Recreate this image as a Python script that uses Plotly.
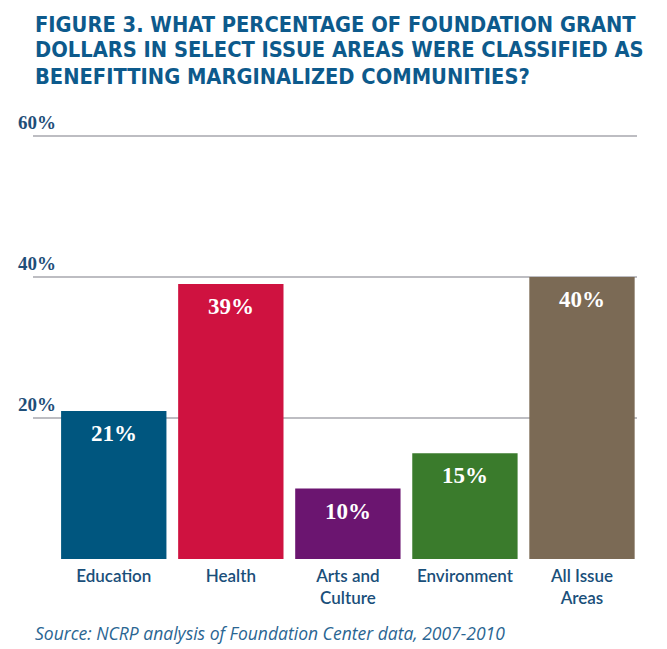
import plotly.graph_objects as go

# data
categories = ["Education", "Health", "Arts and<br>Culture", "Environment", "All Issue<br>Areas"]
values = [21, 39, 10, 15, 40]
bar_colors = ["#00567f", "#cf1240", "#6b1570", "#3a7b2c", "#7b6a55"]
y_ticks = [20, 40, 60]
title_lines = [
    "FIGURE 3. WHAT PERCENTAGE OF FOUNDATION GRANT",
    "DOLLARS IN SELECT ISSUE AREAS WERE CLASSIFIED AS",
    "BENEFITTING MARGINALIZED COMMUNITIES?",
]
source = "Source: NCRP analysis of Foundation Center data, 2007-2010"

x_pos = list(range(len(categories)))

# the page puts the figure 8px in from the corner, so sizes are trimmed by that
W, H = 659, 641
M_L, M_R, M_T, M_B = 25, 30, 126, 90
plot_h = H - M_T - M_B
plot_w = W - M_L - M_R


def py(px):
    # pixel row in the figure -> paper y
    return (H - M_B - px) / plot_h


fig = go.Figure()
fig.add_trace(go.Bar(
    x=x_pos, y=values, width=0.9,
    marker=dict(color=bar_colors, line=dict(width=0)),
    hoverinfo="skip",
))

# value labels inside the top of each bar
for x, v in zip(x_pos, values):
    fig.add_annotation(x=x, y=v, xref="x", yref="y", text=f"<b>{v}%</b>",
                       showarrow=False, yanchor="top", yshift=-8,
                       font=dict(family="Liberation Serif", size=23, color="white"))

# y labels sit above the gridlines, at the left edge
for t in y_ticks:
    fig.add_annotation(x=(8 - M_L) / plot_w, y=t, xref="paper", yref="y", text=f"<b>{t}%</b>",
                       showarrow=False, xanchor="left", yanchor="bottom", yshift=1,
                       font=dict(family="Liberation Serif", size=19, color="#1f4e78"))

# title, one annotation per line to keep the lines tight
for i, line in enumerate(title_lines):
    fig.add_annotation(x=0, y=py(16 + 26 * i), xref="paper", yref="paper",
                       text=f"<b>{line}</b>", showarrow=False,
                       xanchor="left", yanchor="middle",
                       font=dict(family="DejaVu Sans Condensed", size=21.7, color="#0d5a8c"))

fig.add_annotation(x=0, y=py(625), xref="paper", yref="paper",
                   text=f"<i>{source}</i>",
                   showarrow=False, xanchor="left", yanchor="middle",
                   font=dict(family="Open Sans", size=17.5, color="#2a6592"))

fig.update_layout(
    width=W, height=H,
    margin=dict(l=M_L, r=M_R, t=M_T, b=M_B),
    paper_bgcolor="white", plot_bgcolor="white",
    showlegend=False,
    xaxis=dict(
        range=[-0.69, 4.47],
        tickvals=x_pos, ticktext=categories,
        showgrid=False, zeroline=False, showline=False, ticks="",
        ticklabelstandoff=5,
        tickfont=dict(family="Lato", size=17, color="#1a4f7a", weight=600),
        fixedrange=True,
    ),
    yaxis=dict(
        range=[0, 60.3],
        tickvals=[0] + y_ticks,
        showticklabels=False,
        showgrid=True, gridcolor="#bdbdc2", gridwidth=2,
        zeroline=False, showline=False, ticks="",
        fixedrange=True,
    ),
)

fig.write_html("out.html")
